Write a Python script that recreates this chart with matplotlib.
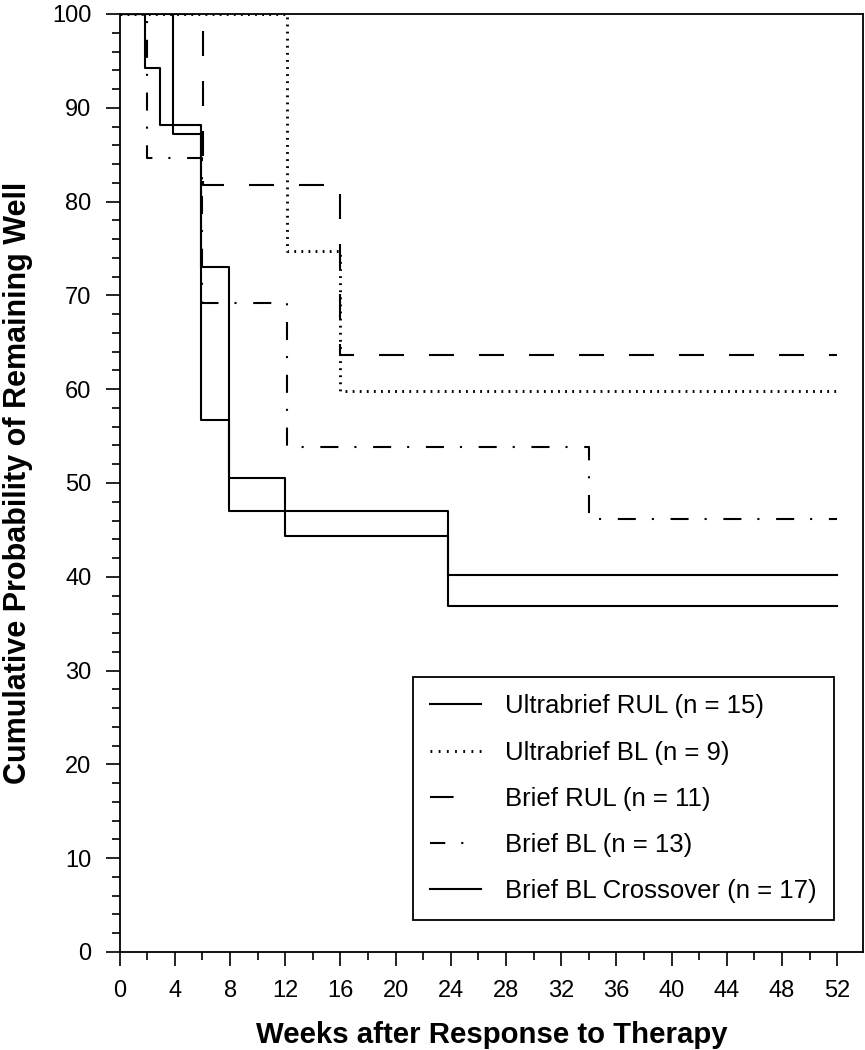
import matplotlib
matplotlib.use("Agg")
import matplotlib.pyplot as plt
from matplotlib.ticker import MultipleLocator

plt.rcParams['font.family'] = ['Liberation Sans', 'DejaVu Sans']
plt.rcParams['lines.scale_dashes'] = False

# ---- data ----
ub_rul_weeks = [0, 3.85, 5.9, 7.9, 23.8, 52]
ub_rul_surv = [100, 87.2, 73.0, 47.0, 40.2, 40.2]

ub_bl_weeks = [0, 12.1, 16.0, 52]
ub_bl_surv = [100, 74.7, 59.8, 59.8]

b_rul_weeks = [0, 6.05, 16.0, 52]
b_rul_surv = [100, 81.8, 63.6, 63.6]

b_bl_weeks = [0, 2.0, 6.0, 12.1, 34.0, 52]
b_bl_surv = [100, 84.6, 69.2, 53.8, 46.2, 46.2]

b_blx_weeks = [0, 1.8, 2.9, 5.9, 7.9, 12.0, 23.8, 52]
b_blx_surv = [100, 94.2, 88.2, 56.7, 50.5, 44.3, 36.9, 36.9]

labels = ["Ultrabrief RUL (n = 15)", "Ultrabrief BL (n = 9)",
          "Brief RUL (n = 11)", "Brief BL (n = 13)",
          "Brief BL Crossover (n = 17)"]

x_ticks = list(range(0, 53, 4))
y_ticks = list(range(0, 101, 10))

# ---- figure ----
fig = plt.figure(figsize=(8.65, 10.5), dpi=100)
L, R, T, B = 119.7, 863.5, 14, 952
ax = fig.add_axes([L / 865, 1 - B / 1050, (R - L) / 865, (B - T) / 1050])

lw = 1.5
ax.plot(ub_rul_weeks, ub_rul_surv, drawstyle='steps-post', color='black',
        lw=lw, ls='-', label=labels[0])
ax.plot(ub_bl_weeks, ub_bl_surv, drawstyle='steps-post', color='black',
        lw=2.1, ls=(0, (1.3, 3.8)), dash_capstyle='butt', label=labels[1])
ax.plot(b_rul_weeks, b_rul_surv, drawstyle='steps-post', color='black',
        lw=lw, ls=(0, (18, 18)), dash_capstyle='butt', label=labels[2])
ax.plot(b_bl_weeks, b_bl_surv, drawstyle='steps-post', color='black',
        lw=lw, ls=(0, (13, 11.5, 1.5, 12)), dash_capstyle='butt', label=labels[3])
ax.plot(b_blx_weeks, b_blx_surv, drawstyle='steps-post', color='black',
        lw=lw, ls='-', label=labels[4])

ax.set_xlim(0, 53.9)
ax.set_ylim(0, 100)
ax.set_xticks(x_ticks)
ax.set_yticks(y_ticks)
ax.xaxis.set_minor_locator(MultipleLocator(2))
ax.yaxis.set_minor_locator(MultipleLocator(2))
ax.tick_params(axis='both', which='major', direction='out', length=10.3,
               width=1.2, pad=10, labelsize=17)
ax.tick_params(axis='both', which='minor', direction='out', length=5.5,
               width=1.2)
ax.tick_params(top=False, right=False, which='both')
for s in ax.spines.values():
    s.set_linewidth(1.3)

ax.set_xlabel("Weeks after Response to Therapy", fontsize=21.2, fontweight='bold')
ax.set_ylabel("Cumulative Probability of Remaining Well", fontsize=22,
              fontweight='bold')
ax.xaxis.set_label_coords(0.5, -0.074)
ax.yaxis.set_label_coords(-0.117, 0.5)

leg = ax.legend(loc='upper left', bbox_to_anchor=(413 / 865, 1 - 677 / 1050),
                bbox_transform=fig.transFigure, borderaxespad=0,
                fontsize=18.5, handlelength=1.95, handletextpad=0.95,
                labelspacing=0.86, borderpad=0.68, fancybox=False,
                framealpha=1, edgecolor='black')
leg.get_frame().set_linewidth(1.3)
hl = leg.get_lines()
hl[1].set_linestyle((0, (1.3, 4.6)))
hl[2].set_linestyle((0, (17, 60)))
hl[3].set_linestyle((0, (11, 11.5, 1.5, 60)))

fig.savefig("out.png", dpi=100)
